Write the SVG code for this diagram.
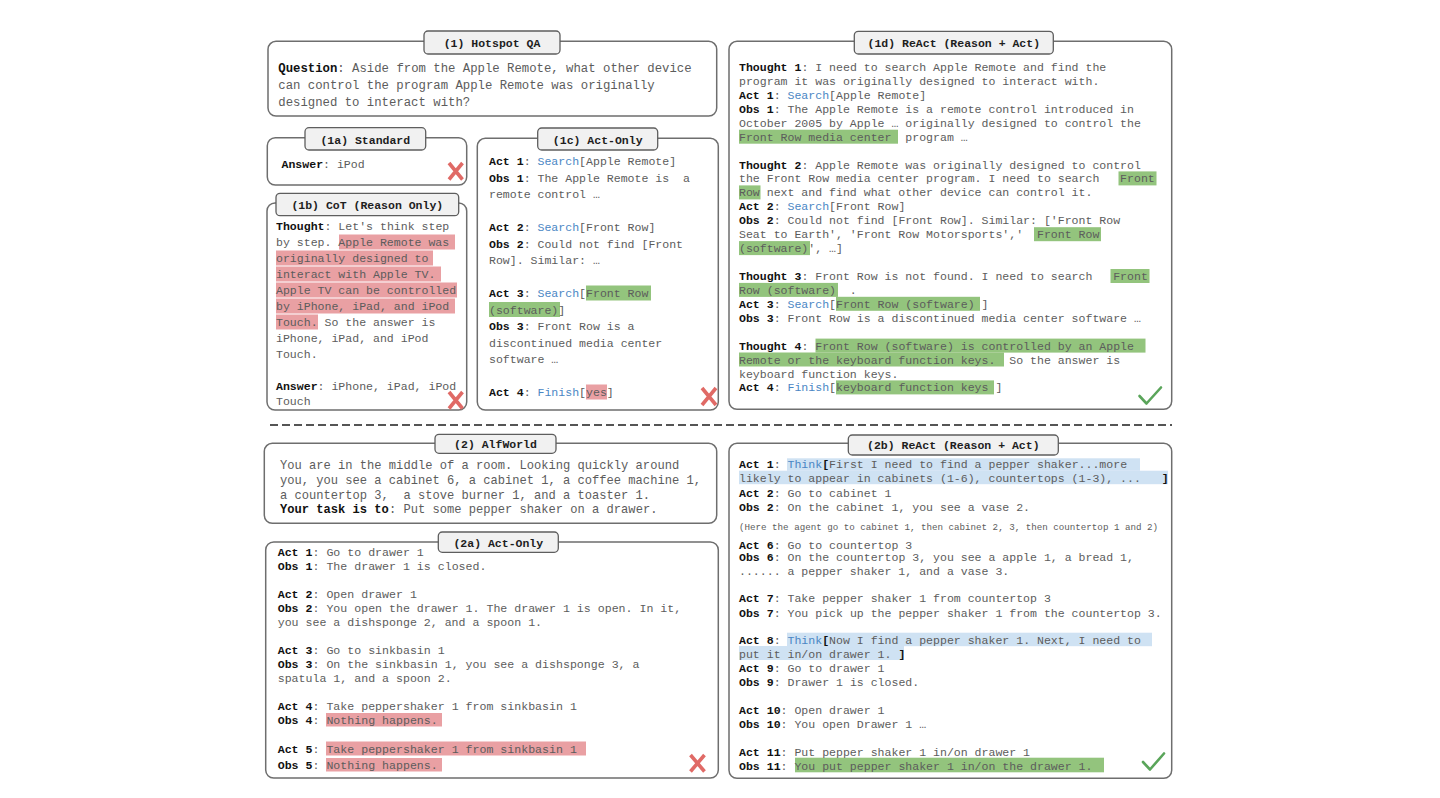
<svg xmlns="http://www.w3.org/2000/svg" width="1440" height="798" viewBox="0 0 1440 798" xml:space="preserve">
<defs>
<style>
text{white-space:pre}
.box{fill:#fff;stroke:#6e6e6e;stroke-width:1.5}
.tab{fill:#f1f1f1;stroke:#5e5e5e;stroke-width:1.3}
.tt{font-family:"Liberation Mono","Courier New",monospace;font-size:11.5px;font-weight:bold;fill:#1e1e1e;text-anchor:middle}
.t{font-family:"Liberation Mono","Courier New",monospace;font-size:11.55px;fill:#5c5c5c}
.t2{font-family:"Liberation Mono","Courier New",monospace;font-size:11.6px;fill:#5c5c5c}
.q{font-family:"Liberation Mono","Courier New",monospace;font-size:12.3px;fill:#5c5c5c}
.a{font-family:"Liberation Mono","Courier New",monospace;font-size:12.1px;fill:#5c5c5c}
.sm{font-family:"Liberation Mono","Courier New",monospace;font-size:9.2px;fill:#5c5c5c}
.b{font-weight:bold;fill:#111}
.s{fill:#4a86c4}
.hr{fill:#e9a0a3}
.hg{fill:#93c47d}
.hb{fill:#cfe2f3}
.x{stroke:#e06a66;stroke-width:3.6;fill:none}
.ck{stroke:#5aa55a;stroke-width:2.6;fill:none;stroke-linecap:round;stroke-linejoin:round}
</style>
</defs>
<rect x="0" y="0" width="1440" height="798" fill="#fff"/>

<g id="connectors">
<line x1="270" y1="425" x2="1172" y2="425" stroke="#555" stroke-width="2" stroke-dasharray="8,4"/>
</g>

<g id="hotspot">
<rect class="box" x="268" y="41.3" width="448.7" height="74.7" rx="8"/>
<rect class="tab" x="424" y="31" width="136" height="23" rx="4"/>
<text class="tt" x="492" y="47">(1) Hotspot QA</text>
<text class="q" x="278.3" y="72.3"><tspan class="b">Question</tspan>: Aside from the Apple Remote, what other device</text>
<text class="q" x="278.3" y="89">can control the program Apple Remote was originally</text>
<text class="q" x="278.3" y="105.6">designed to interact with?</text>
</g>

<g id="standard">
<rect class="box" x="267.3" y="137.7" width="199.4" height="47.3" rx="8"/>
<rect class="tab" x="305" y="127.7" width="120.7" height="22.3" rx="4"/>
<text class="tt" x="365.3" y="143.5">(1a) Standard</text>
<text class="t" x="281.5" y="168.3"><tspan class="b">Answer</tspan>: iPod</text>
<path class="x" d="M449,163 L462.5,179.5 M462.5,163 L449,179.5"/>
</g>

<g id="cot">
<rect class="box" x="267" y="203" width="199.7" height="207" rx="8"/>
<rect class="tab" x="276" y="193.3" width="182.7" height="22.4" rx="4"/>
<text class="tt" x="367.3" y="209">(1b) CoT (Reason Only)</text>
<rect class="hr" x="339" y="234.5" width="116" height="15"/>
<rect class="hr" x="276" y="250.5" width="157" height="15"/>
<rect class="hr" x="276" y="266.5" width="165" height="15"/>
<rect class="hr" x="276" y="282.5" width="181" height="15"/>
<rect class="hr" x="276" y="298.5" width="179" height="15"/>
<rect class="hr" x="276" y="314.5" width="42" height="15"/>
<text class="t" x="276" y="230"><tspan class="b">Thought</tspan>: Let's think step</text>
<text class="t" x="276" y="246">by step. Apple Remote was</text>
<text class="t" x="276" y="262">originally designed to</text>
<text class="t" x="276" y="278">interact with Apple TV.</text>
<text class="t" x="276" y="294">Apple TV can be controlled</text>
<text class="t" x="276" y="310">by iPhone, iPad, and iPod</text>
<text class="t" x="276" y="326">Touch. So the answer is</text>
<text class="t" x="276" y="342">iPhone, iPad, and iPod</text>
<text class="t" x="276" y="358">Touch.</text>
<text class="t" x="276" y="389.5"><tspan class="b">Answer</tspan>: iPhone, iPad, iPod</text>
<text class="t" x="276" y="405">Touch</text>
<path class="x" d="M449,392 L462.5,408.5 M462.5,392 L449,408.5"/>
</g>

<g id="actonly1">
<rect class="box" x="477.3" y="138.3" width="241" height="271.7" rx="8"/>
<rect class="tab" x="537.7" y="128" width="120" height="22" rx="4"/>
<text class="tt" x="597.7" y="143.5">(1c) Act-Only</text>
<rect class="hg" x="586" y="285.5" width="65" height="15"/>
<rect class="hg" x="489" y="302" width="71" height="15"/>
<rect class="hr" x="586" y="384.5" width="21" height="15"/>
<text class="t" x="489" y="165"><tspan class="b">Act 1</tspan>: <tspan class="s">Search</tspan>[Apple Remote]</text>
<text class="t" x="489" y="181.5"><tspan class="b">Obs 1</tspan>: The Apple Remote is  a</text>
<text class="t" x="489" y="198">remote control …</text>
<text class="t" x="489" y="231"><tspan class="b">Act 2</tspan>: <tspan class="s">Search</tspan>[Front Row]</text>
<text class="t" x="489" y="247.5"><tspan class="b">Obs 2</tspan>: Could not find [Front</text>
<text class="t" x="489" y="264">Row]. Similar: …</text>
<text class="t" x="489" y="297"><tspan class="b">Act 3</tspan>: <tspan class="s">Search</tspan>[Front Row</text>
<text class="t" x="489" y="313.5">(software)]</text>
<text class="t" x="489" y="330"><tspan class="b">Obs 3</tspan>: Front Row is a</text>
<text class="t" x="489" y="346.5">discontinued media center</text>
<text class="t" x="489" y="363">software …</text>
<text class="t" x="489" y="396"><tspan class="b">Act 4</tspan>: <tspan class="s">Finish</tspan>[yes]</text>
<path class="x" d="M702,388 L716,405 M716,388 L702,405"/>
</g>

<g id="react1">
<rect class="box" x="729" y="41.3" width="442.7" height="368" rx="8"/>
<rect class="tab" x="854.3" y="31.3" width="199" height="22.7" rx="4"/>
<text class="tt" x="953.8" y="47">(1d) ReAct (Reason + Act)</text>
<rect class="hg" x="739" y="129.7" width="159" height="14"/>
<rect class="hg" x="1118.5" y="171.4" width="38" height="14"/>
<rect class="hg" x="739" y="185.4" width="21.5" height="14"/>
<rect class="hg" x="1034" y="227.2" width="67" height="14"/>
<rect class="hg" x="739" y="241.1" width="71" height="14"/>
<rect class="hg" x="1110.5" y="269" width="39" height="14"/>
<rect class="hg" x="739" y="282.9" width="99" height="14"/>
<rect class="hg" x="836" y="296.8" width="144" height="14"/>
<rect class="hg" x="815.5" y="338.6" width="330" height="14"/>
<rect class="hg" x="739" y="352.5" width="265" height="14"/>
<rect class="hg" x="836" y="380.4" width="158" height="14"/>
<text class="t" x="739" y="71"><tspan class="b">Thought 1</tspan>: I need to search Apple Remote and find the</text>
<text class="t" x="739" y="84.9">program it was originally designed to interact with.</text>
<text class="t" x="739" y="98.9"><tspan class="b">Act 1</tspan>: <tspan class="s">Search</tspan>[Apple Remote]</text>
<text class="t" x="739" y="112.8"><tspan class="b">Obs 1</tspan>: The Apple Remote is a remote control introduced in</text>
<text class="t" x="739" y="126.7">October 2005 by Apple … originally designed to control the</text>
<text class="t" x="739" y="140.7">Front Row media center  program …</text>
<text class="t" x="739" y="168.5"><tspan class="b">Thought 2</tspan>: Apple Remote was originally designed to control</text>
<text class="t" x="739" y="182.4">the Front Row media center program. I need to search   Front</text>
<text class="t" x="739" y="196.4">Row next and find what other device can control it.</text>
<text class="t" x="739" y="210.3"><tspan class="b">Act 2</tspan>: <tspan class="s">Search</tspan>[Front Row]</text>
<text class="t" x="739" y="224.2"><tspan class="b">Obs 2</tspan>: Could not find [Front Row]. Similar: ['Front Row</text>
<text class="t" x="739" y="238.2">Seat to Earth', 'Front Row Motorsports','  Front Row</text>
<text class="t" x="739" y="252.1">(software)', …]</text>
<text class="t" x="739" y="280"><tspan class="b">Thought 3</tspan>: Front Row is not found. I need to search   Front</text>
<text class="t" x="739" y="293.9">Row (software)  .</text>
<text class="t" x="739" y="307.8"><tspan class="b">Act 3</tspan>: <tspan class="s">Search</tspan>[Front Row (software) ]</text>
<text class="t" x="739" y="321.7"><tspan class="b">Obs 3</tspan>: Front Row is a discontinued media center software …</text>
<text class="t" x="739" y="349.6"><tspan class="b">Thought 4</tspan>: Front Row (software) is controlled by an Apple</text>
<text class="t" x="739" y="363.5">Remote or the keyboard function keys.  So the answer is</text>
<text class="t" x="739" y="377.5">keyboard function keys.</text>
<text class="t" x="739" y="391.4"><tspan class="b">Act 4</tspan>: <tspan class="s">Finish</tspan>[keyboard function keys ]</text>
<polyline class="ck" points="1139.5,396 1146.5,403.5 1161,387.5"/>
</g>

<g id="alfworld">
<rect class="box" x="264.3" y="443.3" width="452.4" height="80" rx="8"/>
<rect class="tab" x="435" y="434.3" width="121" height="19" rx="4"/>
<text class="tt" x="495.5" y="448">(2) AlfWorld</text>
<text class="a" x="280" y="469.3">You are in the middle of a room. Looking quickly around</text>
<text class="a" x="280" y="484">you, you see a cabinet 6, a cabinet 1, a coffee machine 1,</text>
<text class="a" x="280" y="498.6">a countertop 3,  a stove burner 1, and a toaster 1.</text>
<text class="a" x="280" y="513.3"><tspan class="b">Your task is to</tspan>: Put some pepper shaker on a drawer.</text>
</g>

<g id="actonly2">
<rect class="box" x="265.7" y="542" width="452.6" height="236" rx="8"/>
<rect class="tab" x="438.3" y="532" width="120" height="20.3" rx="4"/>
<text class="tt" x="498.3" y="546.5">(2a) Act-Only</text>
<rect class="hr" x="326" y="713" width="116" height="13.5"/>
<rect class="hr" x="326" y="741.5" width="260" height="14"/>
<rect class="hr" x="326" y="758" width="116" height="13.5"/>
<text class="t2" x="277.7" y="556"><tspan class="b">Act 1</tspan>: Go to drawer 1</text>
<text class="t2" x="277.7" y="570.3"><tspan class="b">Obs 1</tspan>: The drawer 1 is closed.</text>
<text class="t2" x="277.7" y="598"><tspan class="b">Act 2</tspan>: Open drawer 1</text>
<text class="t2" x="277.7" y="612"><tspan class="b">Obs 2</tspan>: You open the drawer 1. The drawer 1 is open. In it,</text>
<text class="t2" x="277.7" y="626.3">you see a dishsponge 2, and a spoon 1.</text>
<text class="t2" x="277.7" y="654"><tspan class="b">Act 3</tspan>: Go to sinkbasin 1</text>
<text class="t2" x="277.7" y="667.7"><tspan class="b">Obs 3</tspan>: On the sinkbasin 1, you see a dishsponge 3, a</text>
<text class="t2" x="277.7" y="682">spatula 1, and a spoon 2.</text>
<text class="t2" x="277.7" y="709.7"><tspan class="b">Act 4</tspan>: Take peppershaker 1 from sinkbasin 1</text>
<text class="t2" x="277.7" y="723.7"><tspan class="b">Obs 4</tspan>: Nothing happens.</text>
<text class="t2" x="277.7" y="753"><tspan class="b">Act 5</tspan>: Take peppershaker 1 from sinkbasin 1</text>
<text class="t2" x="277.7" y="769.3"><tspan class="b">Obs 5</tspan>: Nothing happens.</text>
<path class="x" d="M690.5,755 L704.5,771.5 M704.5,755 L690.5,771.5"/>
</g>

<g id="react2">
<rect class="box" x="729" y="443.3" width="442.7" height="335" rx="8"/>
<rect class="tab" x="848.3" y="435" width="210" height="20" rx="4"/>
<text class="tt" x="953.3" y="449">(2b) ReAct (Reason + Act)</text>
<rect class="hb" x="787" y="458.3" width="353" height="12.5"/>
<rect class="hb" x="739" y="470.7" width="429" height="13.5"/>
<rect class="hb" x="787" y="632.7" width="365" height="13.5"/>
<rect class="hb" x="739" y="646" width="165" height="14"/>
<rect class="hg" x="795" y="757.7" width="309" height="14.6"/>
<text class="t" x="739" y="468.3"><tspan class="b">Act 1</tspan>: <tspan class="s">Think</tspan><tspan class="b">[</tspan>First I need to find a pepper shaker...more</text>
<text class="t" x="739" y="482.3">likely to appear in cabinets (1-6), countertops (1-3), ...   <tspan class="b">]</tspan></text>
<text class="t" x="739" y="496.7"><tspan class="b">Act 2</tspan>: Go to cabinet 1</text>
<text class="t" x="739" y="510.7"><tspan class="b">Obs 2</tspan>: On the cabinet 1, you see a vase 2.</text>
<text class="sm" x="739" y="529.7">(Here the agent go to cabinet 1, then cabinet 2, 3, then countertop 1 and 2)</text>
<text class="t" x="739" y="549.3"><tspan class="b">Act 6</tspan>: Go to countertop 3</text>
<text class="t" x="739" y="560.7"><tspan class="b">Obs 6</tspan>: On the countertop 3, you see a apple 1, a bread 1,</text>
<text class="t" x="739" y="574.7">...... a pepper shaker 1, and a vase 3.</text>
<text class="t" x="739" y="602.3"><tspan class="b">Act 7</tspan>: Take pepper shaker 1 from countertop 3</text>
<text class="t" x="739" y="616.7"><tspan class="b">Obs 7</tspan>: You pick up the pepper shaker 1 from the countertop 3.</text>
<text class="t" x="739" y="644"><tspan class="b">Act 8</tspan>: <tspan class="s">Think</tspan><tspan class="b">[</tspan>Now I find a pepper shaker 1. Next, I need to</text>
<text class="t" x="739" y="658">put it in/on drawer 1. <tspan class="b">]</tspan></text>
<text class="t" x="739" y="672.3"><tspan class="b">Act 9</tspan>: Go to drawer 1</text>
<text class="t" x="739" y="686.3"><tspan class="b">Obs 9</tspan>: Drawer 1 is closed.</text>
<text class="t" x="739" y="714"><tspan class="b">Act 10</tspan>: Open drawer 1</text>
<text class="t" x="739" y="728"><tspan class="b">Obs 10</tspan>: You open Drawer 1 …</text>
<text class="t" x="739" y="755.7"><tspan class="b">Act 11</tspan>: Put pepper shaker 1 in/on drawer 1</text>
<text class="t" x="739" y="769.7"><tspan class="b">Obs 11</tspan>: You put pepper shaker 1 in/on the drawer 1.</text>
<polyline class="ck" points="1143,762 1150,769.5 1164,753.5"/>
</g>
</svg>
